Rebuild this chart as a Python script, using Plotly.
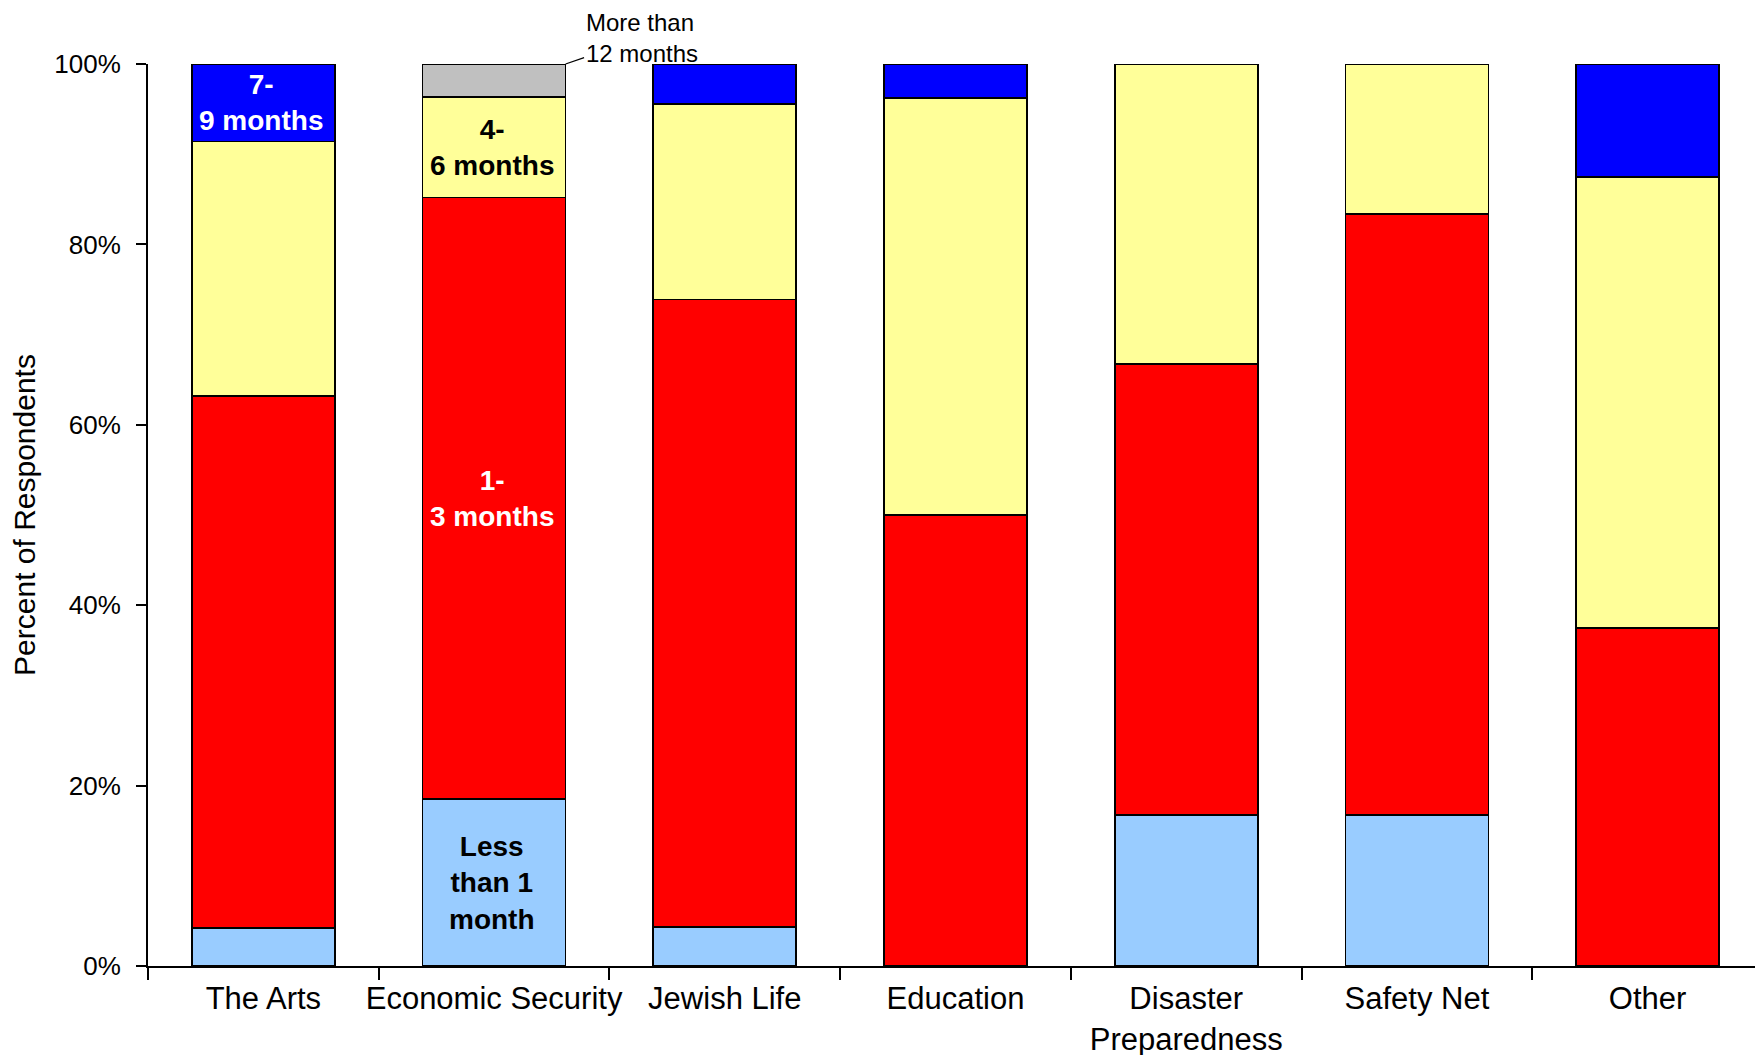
import plotly.graph_objects as go

categories = ["The Arts", "Economic Security", "Jewish Life", "Education",
              "Disaster<br>Preparedness", "Safety Net", "Other"]
less_than_1 = [4.2, 18.5, 4.3, 0, 16.7, 16.7, 0]
months_1_3 = [59.0, 66.7, 69.6, 50.0, 50.0, 66.7, 37.5]
months_4_6 = [28.2, 11.1, 21.7, 46.2, 33.3, 16.6, 50.0]
months_7_9 = [8.6, 0, 4.4, 3.8, 0, 0, 12.5]
more_12 = [0, 3.7, 0, 0, 0, 0, 0]
y_ticks = [0, 20, 40, 60, 80, 100]
y_tick_labels = ["0%", "20%", "40%", "60%", "80%", "100%"]

series = [
    ("Less than 1 month", less_than_1, "#99CCFF"),
    ("1-3 months", months_1_3, "#FF0000"),
    ("4-6 months", months_4_6, "#FFFF99"),
    ("7-9 months", months_7_9, "#0000FF"),
    ("More than 12 months", more_12, "#C0C0C0"),
]

FONT = "Liberation Sans, Arial, sans-serif"
fig = go.Figure()
for name, vals, col in series:
    fig.add_trace(go.Bar(x=categories, y=vals, name=name, marker_color=col,
                         marker_line_color="black", marker_line_width=1.8,
                         width=0.62, showlegend=False))

# segment midpoints for inline labels
def mid(idx, cat):
    base = sum(s[1][cat] for s in series[:idx])
    return base + series[idx][1][cat] / 2

anns = [
    (0, 3, "7-<br>9 months", "white"),
    (1, 2, "4-<br>6 months", "black"),
    (1, 1, "1-<br>3 months", "white"),
    (1, 0, "Less<br>than 1<br>month", "black"),
]
for cat, idx, txt, col in anns:
    fig.add_annotation(x=categories[cat], y=mid(idx, cat), text="<b>" + txt + "</b>",
                       showarrow=False, font=dict(family=FONT, size=28, color=col),
                       xshift=-2)

top_econ = sum(s[1][1] for s in series)
fig.add_annotation(x=1.31, y=top_econ, text="More than<br>12 months", showarrow=True,
                   arrowhead=0, arrowwidth=1.2, arrowcolor="black", standoff=0,
                   ax=76, ay=-26, align="left",
                   font=dict(family=FONT, size=24, color="black"))

fig.update_layout(
    barmode="stack",
    width=1763, height=1055,
    margin=dict(l=140, r=8, t=56, b=97),
    paper_bgcolor="white", plot_bgcolor="white",
    font=dict(family=FONT, color="black"),
    xaxis=dict(range=[-0.5, 6.5], showline=True, linecolor="black", linewidth=2,
               ticks="outside", tickson="boundaries", ticklen=12, tickwidth=1.5,
               tickcolor="black", tickfont=dict(size=31), tickangle=0,
               ticklabelstandoff=4,
               showgrid=False, zeroline=False, automargin=False),
    yaxis=dict(range=[0, 100], tickmode="array", tickvals=y_ticks, ticktext=y_tick_labels,
               showline=True, linecolor="black", linewidth=2, ticks="outside",
               ticklen=10, tickwidth=1.5, tickcolor="black", tickfont=dict(size=26),
               ticklabelstandoff=10, showgrid=False, zeroline=False, automargin=False,
               title=dict(text="Percent of Respondents", font=dict(size=30), standoff=12)),
)
fig.write_html("out.html")
